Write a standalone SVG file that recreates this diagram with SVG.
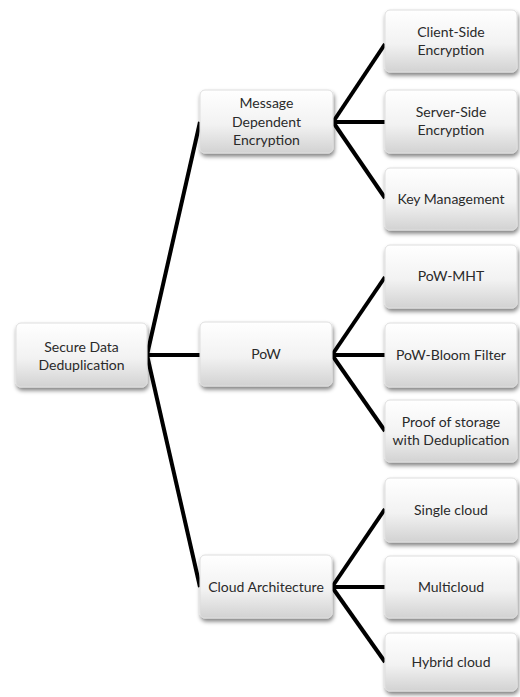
<svg xmlns="http://www.w3.org/2000/svg" width="520" height="697" viewBox="0 0 520 697">
<defs>
<linearGradient id="g" x1="0" y1="0" x2="0" y2="1">
<stop offset="0" stop-color="#ffffff"/>
<stop offset="0.55" stop-color="#f2f2f2"/>
<stop offset="1" stop-color="#d2d2d2"/>
</linearGradient>
<filter id="sh" x="-10%" y="-10%" width="125%" height="135%">
<feGaussianBlur in="SourceAlpha" stdDeviation="2"/>
<feOffset dx="1" dy="3" result="b"/>
<feComponentTransfer><feFuncA type="linear" slope="0.5"/></feComponentTransfer>
<feMerge><feMergeNode/><feMergeNode in="SourceGraphic"/></feMerge>
</filter>
</defs>
<style>
.box{fill:url(#g);stroke:#dedede;stroke-width:1;filter:url(#sh)}
.t{font-family:Lato,"Open Sans","Liberation Sans",sans-serif;font-size:14px;fill:#2a2a2a;text-anchor:middle}
.c line{stroke:#000;stroke-width:4;stroke-linecap:butt}
</style>
<rect width="520" height="697" fill="#fff"/>
<g class="c" id="connectors">
<line x1="147" y1="355" x2="200" y2="122"/>
<line x1="147" y1="355" x2="200" y2="355"/>
<line x1="147" y1="355" x2="200" y2="587"/>
<line x1="333" y1="122" x2="385" y2="44"/>
<line x1="333" y1="122" x2="385" y2="122"/>
<line x1="333" y1="122" x2="385" y2="198"/>
<line x1="332" y1="355" x2="385" y2="277"/>
<line x1="332" y1="355" x2="385" y2="355"/>
<line x1="332" y1="355" x2="385" y2="431"/>
<line x1="332" y1="587" x2="385" y2="509"/>
<line x1="332" y1="587" x2="385" y2="587"/>
<line x1="332" y1="587" x2="385" y2="662"/>
</g>
<g id="n-root"><rect class="box" x="16" y="323" width="131" height="64" rx="5"/><text class="t" x="81.5" y="352">Secure Data</text><text class="t" x="81.5" y="370">Deduplication</text></g>
<g id="n-mde"><rect class="box" x="200" y="90" width="133" height="63" rx="5"/><text class="t" x="266.5" y="108">Message</text><text class="t" x="266.5" y="127">Dependent</text><text class="t" x="266.5" y="145">Encryption</text></g>
<g id="n-pow"><rect class="box" x="200" y="322" width="132" height="64" rx="5"/><text class="t" x="266" y="359">PoW</text></g>
<g id="n-cloud"><rect class="box" x="200" y="555" width="132" height="63" rx="5"/><text class="t" x="266" y="592">Cloud Architecture</text></g>
<g id="n-client"><rect class="box" x="385" y="10" width="132" height="62" rx="5"/><text class="t" x="451" y="37">Client-Side</text><text class="t" x="451" y="55">Encryption</text></g>
<g id="n-server"><rect class="box" x="385" y="90" width="132" height="63" rx="5"/><text class="t" x="451" y="117">Server-Side</text><text class="t" x="451" y="135">Encryption</text></g>
<g id="n-key"><rect class="box" x="385" y="168" width="132" height="62" rx="5"/><text class="t" x="451" y="204">Key Management</text></g>
<g id="n-mht"><rect class="box" x="385" y="245" width="132" height="63" rx="5"/><text class="t" x="451" y="281">PoW-MHT</text></g>
<g id="n-bloom"><rect class="box" x="385" y="323" width="132" height="64" rx="5"/><text class="t" x="451" y="360">PoW-Bloom Filter</text></g>
<g id="n-proof"><rect class="box" x="385" y="400" width="132" height="62" rx="5"/><text class="t" x="451" y="427">Proof of storage</text><text class="t" x="451" y="445">with Deduplication</text></g>
<g id="n-single"><rect class="box" x="385" y="478" width="132" height="64" rx="5"/><text class="t" x="451" y="515">Single cloud</text></g>
<g id="n-multi"><rect class="box" x="385" y="556" width="132" height="62" rx="5"/><text class="t" x="451" y="592">Multicloud</text></g>
<g id="n-hybrid"><rect class="box" x="385" y="633" width="132" height="58" rx="5"/><text class="t" x="451" y="667">Hybrid cloud</text></g>
</svg>
